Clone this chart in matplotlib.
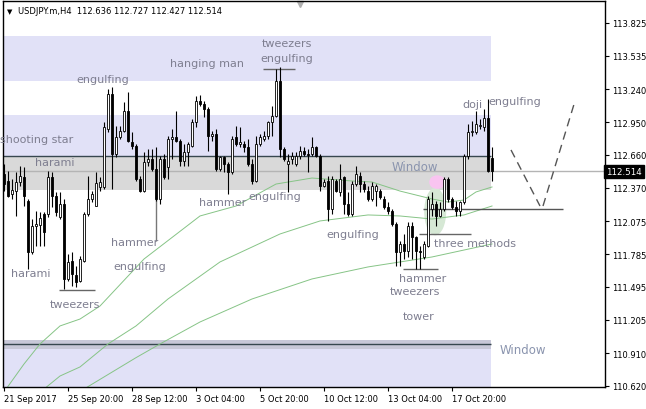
import matplotlib
matplotlib.use('Agg')
import matplotlib.pyplot as plt
from matplotlib.patches import Ellipse

# USDJPY.m H4 candles (bar index 0 = 21 Sep 2017)
opens = [112.492, 112.430, 112.315, 112.341, 112.421, 112.465, 112.253, 111.803, 112.033, 112.041,
         112.139, 112.139, 112.465, 112.297, 112.112, 112.227, 111.565, 111.724, 111.600, 111.547,
         111.724, 112.139, 112.271, 112.209, 112.377, 112.377, 112.889, 113.198, 112.668, 112.818,
         112.871, 113.048, 112.774, 112.739, 112.448, 112.341, 112.598, 112.624, 112.536, 112.271,
         112.624, 112.554, 112.801, 112.818, 112.783, 112.607, 112.686, 112.739, 112.951, 113.136,
         113.110, 113.066, 112.827, 112.845, 112.536, 112.642, 112.580, 112.509, 112.818, 112.757,
         112.757, 112.730, 112.580, 112.430, 112.757, 112.801, 112.827, 112.951, 113.004, 113.313,
         112.712, 112.580, 112.624, 112.580, 112.651, 112.695, 112.668, 112.668, 112.730, 112.651,
         112.386, 112.430, 112.183, 112.430, 112.333, 112.465, 112.227, 112.139, 112.403, 112.474,
         112.403, 112.341, 112.271, 112.341, 112.341, 112.271, 112.200, 112.165, 112.050, 111.803,
         111.874, 111.812, 112.033, 111.936, 111.812, 111.759, 111.856, 112.183, 112.227, 112.121,
         112.183, 112.448, 112.271, 112.200, 112.165, 112.244, 112.651, 112.862, 112.862, 112.916,
         112.907, 112.986, 112.636]
highs = [112.580, 112.518, 112.448, 112.509, 112.562, 112.553, 112.271, 112.094, 112.165, 112.156,
         112.156, 112.518, 112.509, 112.333, 112.333, 112.271, 111.785, 111.803, 111.679, 111.768,
         112.156, 112.474, 112.341, 112.509, 112.465, 112.951, 113.242, 113.260, 112.916, 112.916,
         113.127, 113.216, 112.862, 112.757, 112.474, 112.686, 112.712, 112.712, 112.730, 112.651,
         112.668, 112.827, 112.889, 113.048, 112.801, 112.757, 112.774, 112.977, 113.180, 113.189,
         113.136, 113.083, 112.871, 112.889, 112.651, 112.651, 112.598, 112.827, 112.916, 112.907,
         112.783, 112.801, 112.624, 112.827, 112.845, 112.871, 112.960, 113.092, 113.419, 113.437,
         112.730, 112.668, 112.686, 112.686, 112.739, 112.730, 112.712, 112.818, 112.739, 112.668,
         112.448, 112.474, 112.474, 112.448, 112.580, 112.474, 112.333, 112.430, 112.562, 112.509,
         112.430, 112.386, 112.421, 112.403, 112.359, 112.297, 112.244, 112.183, 112.068, 111.900,
         111.962, 112.068, 112.068, 111.944, 111.856, 111.900, 112.297, 112.333, 112.253, 112.244,
         112.465, 112.465, 112.289, 112.253, 112.253, 112.668, 112.933, 112.960, 113.048, 112.977,
         113.066, 113.154, 112.727]
lows = [112.341, 112.290, 112.271, 112.121, 112.386, 112.209, 111.653, 111.785, 111.856, 111.856,
        111.856, 112.112, 112.200, 112.121, 112.094, 111.476, 111.547, 111.503, 111.494, 111.538,
        111.715, 112.121, 112.244, 112.209, 112.341, 112.359, 112.862, 112.359, 112.642, 112.801,
        112.862, 112.774, 112.712, 112.430, 112.333, 112.333, 112.562, 112.518, 112.253, 112.227,
        112.448, 112.448, 112.624, 112.774, 112.562, 112.562, 112.562, 112.730, 112.907, 113.092,
        112.995, 112.695, 112.783, 112.518, 112.518, 112.509, 112.315, 112.492, 112.739, 112.730,
        112.686, 112.562, 112.403, 112.421, 112.739, 112.783, 112.801, 112.827, 112.995, 112.642,
        112.607, 112.333, 112.580, 112.562, 112.624, 112.651, 112.509, 112.651, 112.642, 112.341,
        112.377, 112.077, 112.139, 112.333, 112.297, 112.139, 112.121, 112.121, 112.386, 112.333,
        112.333, 112.253, 112.253, 112.209, 112.271, 112.183, 112.139, 112.033, 111.679, 111.679,
        111.741, 111.759, 111.741, 111.653, 111.653, 111.741, 111.847, 112.121, 112.033, 112.112,
        112.165, 112.244, 112.183, 112.121, 112.121, 112.227, 112.624, 112.827, 112.845, 112.889,
        112.871, 112.509, 112.427]
closes = [112.403, 112.297, 112.350, 112.421, 112.474, 112.297, 111.803, 112.033, 112.050, 112.103,
          111.980, 112.465, 112.297, 112.156, 112.227, 111.565, 111.715, 111.609, 111.538, 111.741,
          112.139, 112.271, 112.315, 112.412, 112.421, 112.907, 113.198, 112.668, 112.818, 112.871,
          113.048, 112.783, 112.739, 112.448, 112.341, 112.598, 112.624, 112.536, 112.271, 112.624,
          112.465, 112.801, 112.818, 112.783, 112.607, 112.686, 112.757, 112.951, 113.136, 113.110,
          113.066, 112.827, 112.845, 112.536, 112.642, 112.580, 112.509, 112.801, 112.757, 112.774,
          112.730, 112.580, 112.430, 112.757, 112.818, 112.827, 112.951, 113.004, 113.313, 112.712,
          112.624, 112.607, 112.651, 112.651, 112.695, 112.668, 112.660, 112.730, 112.651, 112.386,
          112.421, 112.183, 112.448, 112.341, 112.448, 112.227, 112.139, 112.403, 112.492, 112.403,
          112.359, 112.271, 112.386, 112.386, 112.289, 112.200, 112.165, 112.050, 111.803, 111.874,
          111.812, 112.033, 111.936, 111.812, 111.803, 111.874, 112.271, 112.227, 112.121, 112.183,
          112.448, 112.271, 112.200, 112.165, 112.244, 112.651, 112.862, 112.871, 112.933, 112.925,
          112.986, 112.519, 112.514]

# moving averages, sampled at bar indices
ma1_idx = [0, 5, 9, 14, 19, 24, 35, 49, 58, 68, 77, 87, 92, 99, 107, 111, 115, 118, 122]
ma1_val = [110.567, 110.814, 110.991, 111.150, 111.211, 111.326, 111.741, 112.121, 112.209, 112.403,
           112.456, 112.430, 112.421, 112.341, 112.271, 112.244, 112.262, 112.333, 112.377]
ma2_idx = [10, 14, 19, 26, 33, 41, 54, 69, 79, 91, 99, 107, 115, 122]
ma2_val = [110.593, 110.708, 110.788, 110.991, 111.150, 111.388, 111.715, 111.962, 112.077, 112.130,
           112.121, 112.094, 112.130, 112.209]
ma3_idx = [20, 33, 39, 49, 62, 77, 91, 107, 122]
ma3_val = [110.593, 110.870, 110.991, 111.185, 111.388, 111.565, 111.671, 111.759, 111.874]

tick_pos = [0, 16, 32, 48, 64, 80, 96, 112]
tick_lab = ['21 Sep 2017', '25 Sep 20:00', '28 Sep 12:00', '3 Oct 04:00', '5 Oct 20:00',
            '10 Oct 12:00', '13 Oct 04:00', '17 Oct 20:00']
price_ticks = [113.825, 113.535, 113.240, 112.950, 112.660, 112.370, 112.075, 111.785,
               111.495, 111.205, 110.910, 110.620]
last_price = 112.514

# pattern labels: (text, bar, price)
labels = [('engulfing', 24.75, 113.331), ('hanging man', 50.75, 113.472),
          ('tweezers', 70.75, 113.649), ('engulfing', 70.75, 113.516),
          ('harami', 12.75, 112.598), ('harami', 6.75, 111.618), ('tweezers', 17.75, 111.344),
          ('hammer', 32.75, 111.891), ('engulfing', 34, 111.679), ('hammer', 54.75, 112.244),
          ('engulfing', 67.75, 112.297), ('engulfing', 87.25, 111.962),
          ('three methods', 117.75, 111.882), ('hammer', 104.75, 111.573),
          ('tweezers', 102.75, 111.460), ('tower', 103.75, 111.238),
          ('doji', 117, 113.110), ('engulfing', 127.75, 113.136)]

fig = plt.figure(figsize=(6.46, 4.10), dpi=100)
ax = fig.add_axes([3 / 646, 22 / 410, 602 / 646, 386 / 410])
ax.set_xlim(-0.25, 150.25)
ax.set_ylim(110.611, 114.019)

lav = '#e1e1f7'
zone_x = [-0.25, 121.75]
ax.fill_between(zone_x, 113.316, 113.713, color=lav, lw=0, zorder=0)
ax.fill_between(zone_x, 112.651, 113.013, color=lav, lw=0, zorder=0)
ax.fill_between(zone_x, 112.350, 112.651, color='#d9d9d9', lw=0, zorder=0)
ax.fill_between(zone_x, 110.5, 110.946, color=lav, lw=0, zorder=0)
ax.fill_between(zone_x, 110.946, 111.026, color='#c8c8d8', lw=0, zorder=0)
ax.hlines([112.651, 110.991], zone_x[0], zone_x[1], color='#37474f', lw=1, zorder=1)
ax.axhline(last_price, color='#b4b4b4', lw=1, zorder=1)

ax.add_patch(Ellipse((107.8, 112.16), 5.5, 0.42, fc='#d6e8d5', ec='none', zorder=1))
ax.add_patch(Ellipse((108.3, 112.42), 4, 0.12, fc='#f9c4f0', ec='none', zorder=1))

for xs, ys in [(ma1_idx, ma1_val), (ma2_idx, ma2_val), (ma3_idx, ma3_val)]:
    ax.plot(xs, ys, color='#86c486', lw=0.7, zorder=2)

# pattern marker lines
gray = '#666666'
ax.hlines(111.467, 13.75, 22.75, color=gray, lw=1, zorder=2)
ax.hlines(113.419, 64.75, 72.75, color=gray, lw=1, zorder=2)
ax.hlines(111.653, 99.75, 108.5, color=gray, lw=1, zorder=2)
ax.hlines(111.962, 103.75, 116.75, color=gray, lw=1, zorder=2)
ax.hlines(112.183, 104.75, 139.75, color='#555555', lw=1, zorder=2)
ax.vlines(38, 111.90, 112.27, color='#777777', lw=1, zorder=2)
ax.plot([126.75, 134], [112.704, 112.209], color='#555555', lw=1, dashes=(6, 4), zorder=2)
ax.plot([134.75, 142.75], [112.209, 113.136], color='#555555', lw=1, dashes=(6, 4), zorder=2)

# candles
idx = list(range(len(opens)))
ax.vlines(idx, lows, highs, color='black', lw=0.8, zorder=3)
for i in idx:
    o, c = opens[i], closes[i]
    fc = 'white' if c >= o else 'black'
    ax.bar(i, max(abs(c - o), 0.002), bottom=min(o, c), width=0.6, color=fc,
           edgecolor='black', lw=0.6, zorder=4)

lab_col = '#7e7e90'
for t, x, y in labels:
    ax.text(x, y, t, fontsize=8, color=lab_col, ha='center', va='center', zorder=5)
ax.text(-1.0, 112.801, 'shooting star', fontsize=8, color=lab_col, ha='left', va='center',
        zorder=5)
ax.text(102.75, 112.562, 'Window', fontsize=8.5, color='#8a94ae', ha='center', va='center',
        zorder=5)
ax.text(129.75, 110.946, 'Window', fontsize=8.5, color='#8a94ae', ha='center', va='center',
        zorder=5)

ax.yaxis.tick_right()
ax.set_yticks(price_ticks)
ax.set_yticklabels(['%.3f' % p for p in price_ticks])
ax.set_xticks(tick_pos)
ax.set_xticklabels(tick_lab, ha='left')
ax.tick_params(axis='both', labelsize=6, length=3, width=0.8, pad=2, colors='black')
for s in ax.spines.values():
    s.set_color('black')
    s.set_linewidth(1)

ax.text(1.002, last_price, '%.3f' % last_price, transform=ax.get_yaxis_transform(),
        fontsize=6.3, color='white', ha='left', va='center',
        bbox=dict(boxstyle='square,pad=0.25', fc='black', ec='black'))
ax.plot([0.493], [0.992], marker='v', color='#b0b0b0', ms=5, transform=ax.transAxes,
        clip_on=False)

fig.text(7 / 646, 1 - 12 / 410, '\u25bc', fontsize=5, color='black', va='center')
fig.text(18 / 646, 1 - 12 / 410, 'USDJPY.m,H4  112.636 112.727 112.427 112.514', fontsize=6,
         color='black', va='center')

fig.savefig('out.png', dpi=100)
